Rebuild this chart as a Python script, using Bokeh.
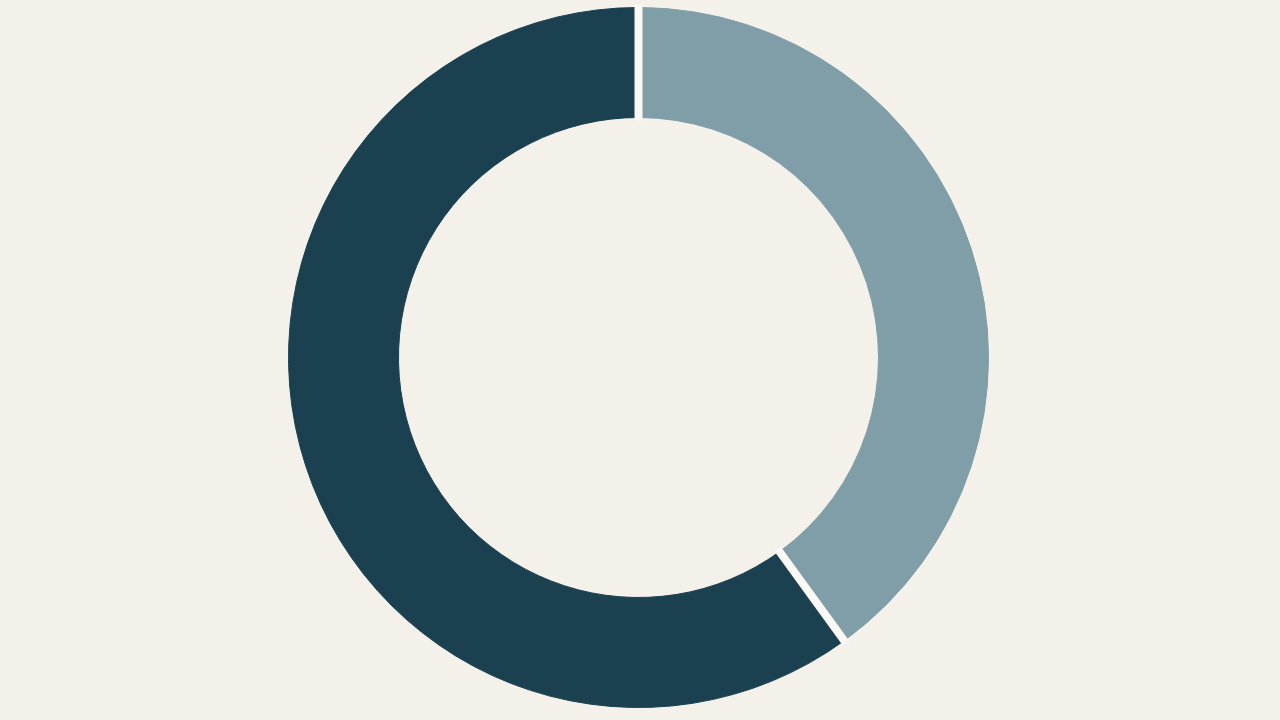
import math
from bokeh.plotting import figure
from bokeh.models import ColumnDataSource, Range1d
from bokeh.embed import file_html
from bokeh.resources import INLINE

categories = ["B", "A"]
values = [40, 60]
colors = ["#809ea8", "#1b4150"]

W, H = 1280, 720
CX, CY = 638, 363
R_IN, R_OUT = 240, 350

total = sum(values)
starts, ends = [], []
acc = 0.0
for v in values:
    starts.append(math.pi / 2 - 2 * math.pi * acc / total)
    acc += v
    ends.append(math.pi / 2 - 2 * math.pi * acc / total)

src = ColumnDataSource(dict(cat=categories, val=values, color=colors,
                            start=starts, end=ends,
                            x=[CX] * len(values), y=[CY] * len(values)))

p = figure(width=W, height=H, output_backend="svg", toolbar_location=None,
           x_range=Range1d(0, W), y_range=Range1d(0, H), min_border=0)
p.annular_wedge(x="x", y="y", inner_radius=R_IN, outer_radius=R_OUT,
                start_angle="start", end_angle="end", direction="clock",
                fill_color="color", line_color="color", line_width=1,
                source=src)

# separators between slices
sep = dict(x0=[CX + (R_IN - 3) * math.cos(a) for a in starts],
           y0=[CY + (R_IN - 3) * math.sin(a) for a in starts],
           x1=[CX + (R_OUT + 3) * math.cos(a) for a in starts],
           y1=[CY + (R_OUT + 3) * math.sin(a) for a in starts])
p.segment(x0="x0", y0="y0", x1="x1", y1="y1", source=ColumnDataSource(sep),
          line_color="#fbf9f5", line_width=8)

p.axis.visible = False
p.grid.visible = False
p.outline_line_color = None
p.background_fill_color = "#f4f1eb"
p.border_fill_color = "#f4f1eb"

html = file_html(p, INLINE)
html = html.replace("<body>", '<body style="background:#f4f1eb">')
open("out.html", "w").write(html)
